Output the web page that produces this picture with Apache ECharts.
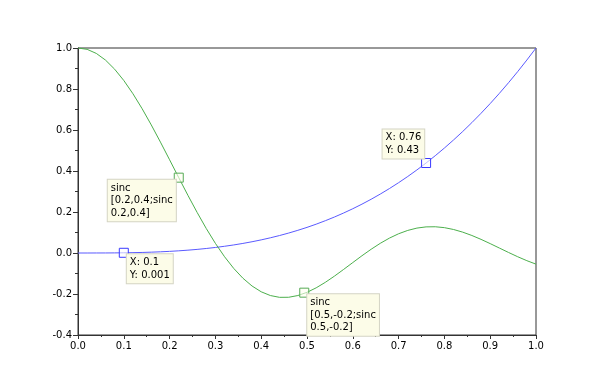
<!DOCTYPE html>
<html>
<head>
<meta charset="utf-8">
<script src="https://cdn.jsdelivr.net/npm/echarts@6/dist/echarts.min.js"></script>
<style>html,body{margin:0;padding:0;background:#fff}#c{width:612px;height:381px}</style>
</head>
<body>
<div id="c"></div>
<script>
var xValues = [0,0.02,0.04,0.06,0.08,0.1,0.12,0.14,0.16,0.18,0.2,0.22,0.24,0.26,0.28,0.3,0.32,0.34,0.36,0.38,0.4,0.42,0.44,0.46,0.48,0.5,0.52,0.54,0.56,0.58,0.6,0.62,0.64,0.66,0.68,0.7,0.72,0.74,0.76,0.78,0.8,0.82,0.84,0.86,0.88,0.9,0.92,0.94,0.96,0.98,1.0];
var cubeValues = [0,0.0000,0.0001,0.0002,0.0005,0.001,0.0017,0.0027,0.0041,0.0058,0.008,0.0106,0.0138,0.0176,0.0220,0.027,0.0328,0.0393,0.0467,0.0549,0.064,0.0741,0.0852,0.0973,0.1106,0.125,0.1406,0.1575,0.1756,0.1951,0.216,0.2383,0.2621,0.2875,0.3144,0.343,0.3732,0.4052,0.4390,0.4746,0.512,0.5514,0.5927,0.6361,0.6815,0.729,0.7787,0.8306,0.8847,0.9412,1.0];
var sincValues = [1,0.9934,0.9735,0.9411,0.8967,0.8415,0.7767,0.7039,0.6247,0.5410,0.4546,0.3675,0.2814,0.1983,0.1196,0.0470,-0.0182,-0.0752,-0.1229,-0.1610,-0.1892,-0.2075,-0.2163,-0.2160,-0.2075,-0.1918,-0.1699,-0.1431,-0.1127,-0.0801,-0.0466,-0.0134,0.0182,0.0472,0.0727,0.0939,0.1102,0.1215,0.1274,0.1280,0.1237,0.1147,0.1017,0.0854,0.0665,0.0458,0.0242,0.0026,-0.0182,-0.0374,-0.0544];
var yTicks = [-0.4,-0.2,0.0,0.2,0.4,0.6,0.8,1.0];
var cubeTips = [{x:0.1,y:0.001,text:'X: 0.1\nY: 0.001',pos:'br'},{x:0.76,y:0.439,text:'X: 0.76\nY: 0.43',pos:'tl'}];
var sincTips = [{x:0.22,y:0.3675,text:'sinc\n[0.2,0.4;sinc\n0.2,0.4]',pos:'bl'},{x:0.494,y:-0.1935,text:'sinc\n[0.5,-0.2;sinc\n0.5,-0.2]',pos:'br'}];

function pair(xs, ys){ return xs.map(function(x,i){ return [x, ys[i]]; }); }
var boxPos = {
  br: {position:[8,6.5], verticalAlign:'top'},
  bl: {position:[-66,7], verticalAlign:'top'},
  tl: {position:[-38.5,0.5], verticalAlign:'bottom'}
};
function tips(list){
  return list.map(function(t){
    var p = boxPos[t.pos];
    return {
      coord:[t.x,t.y], value:t.text,
      label:{show:true, formatter:t.text, position:p.position, align:'left', verticalAlign:p.verticalAlign,
        fontFamily:'DejaVu Sans', fontSize:10, color:'#000', lineHeight:12.5,
        backgroundColor:'#fcfce8', borderColor:'#d4d4c4', borderWidth:1, padding:[2,3,2,3]}
    };
  });
}
var chart = echarts.init(document.getElementById('c'), null, {renderer:'canvas'});
var axisFont = {fontFamily:'DejaVu Sans', fontSize:10, color:'#000'};
chart.setOption({
  animation:false,
  backgroundColor:'#fff',
  grid:{left:78, right:76, top:48, bottom:46, show:true, borderColor:'#333', borderWidth:1, backgroundColor:'transparent'},
  xAxis:{type:'value', min:0, max:1, interval:0.1,
    axisLine:{show:true, onZero:false, lineStyle:{color:'#333', width:1}},
    axisTick:{show:true, length:4, lineStyle:{color:'#333'}},
    minorTick:{show:true, splitNumber:2, length:2, lineStyle:{color:'#333'}},
    splitLine:{show:false},
    axisLabel:Object.assign({margin:6, formatter:function(v){return v.toFixed(1);}}, axisFont)},
  yAxis:{type:'value', min:yTicks[0], max:yTicks[yTicks.length-1], interval:0.2,
    axisLine:{show:true, onZero:false, lineStyle:{color:'#333', width:1}},
    axisTick:{show:true, length:5, lineStyle:{color:'#333'}},
    minorTick:{show:true, splitNumber:2, length:3, lineStyle:{color:'#333'}},
    splitLine:{show:false},
    axisLabel:Object.assign({margin:6, formatter:function(v){return v.toFixed(1);}}, axisFont)},
  series:[
    {type:'line', data:pair(xValues, cubeValues), showSymbol:false, symbol:'none', z:3,
      lineStyle:{color:'#5a5aff', width:1},
      markPoint:{symbol:'rect', symbolSize:9, silent:true,
        itemStyle:{color:'rgba(255,255,255,0.6)', borderColor:'#3a3aff', borderWidth:1},
        data:tips(cubeTips)}},
    {type:'line', data:pair(xValues, sincValues), showSymbol:false, symbol:'none', z:3,
      lineStyle:{color:'#4caf4c', width:1},
      markPoint:{symbol:'rect', symbolSize:9, silent:true,
        itemStyle:{color:'rgba(255,255,240,0.6)', borderColor:'#55aa55', borderWidth:1},
        data:tips(sincTips)}}
  ]
});
</script>
</body>
</html>
